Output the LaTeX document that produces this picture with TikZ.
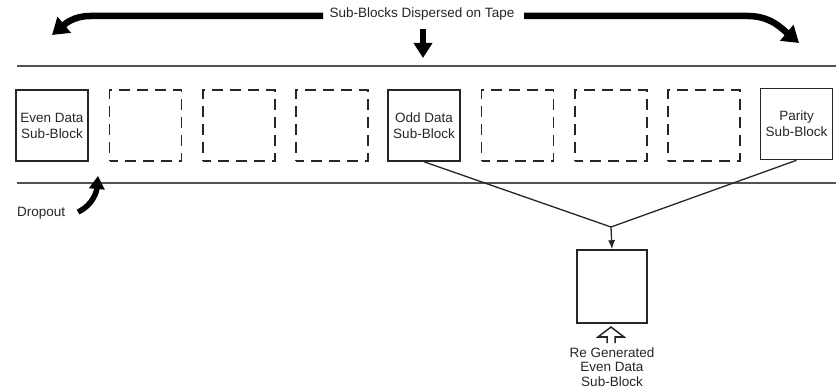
\documentclass[tikz,border=0pt]{standalone}
\usepackage{fontspec}
\setmainfont{Liberation Sans}
\usetikzlibrary{arrows.meta}
\definecolor{ink}{gray}{0.15}
\begin{document}
\begin{tikzpicture}[x=1pt,y=-1pt,
  every node/.style={font=\fontsize{13.5}{16}\selectfont, text=ink, align=center, inner sep=0pt},
  blk/.style={draw=ink, line width=1.6pt, minimum width=72pt, minimum height=71pt},
  dblk/.style={blk, dash pattern=on 11pt off 7pt, dash phase=3pt, line width=1.9pt},
  tapeline/.style={draw=ink!80, line width=1.4pt},
  thin/.style={draw=ink, line width=1.3pt},
  fat/.style={draw=black, line width=6.5pt, -{Triangle[length=16pt,width=20pt]}}
]
\useasboundingbox (0,0) rectangle (836,390);
% tape
\coordinate (t1) at (17,66); \coordinate (t2) at (836,66);
\coordinate (u1) at (17,183); \coordinate (u2) at (836,183);
\draw[tapeline] (t1) -- (t2);
\draw[tapeline] (u1) -- (u2);
% blocks
\node[blk]  (b1) at (52,125.5) {Even Data\\Sub-Block};
\node[dblk] (b2) at (145.5,125.5) {};
\node[dblk] (b3) at (239,125.5) {};
\node[dblk] (b4) at (332,125.5) {};
\node[blk]  (b5) at (424,125.5) {Odd Data\\Sub-Block};
\node[dblk] (b6) at (517.5,125.5) {};
\node[dblk] (b7) at (611,125.5) {};
\node[dblk] (b8) at (704,125.5) {};
\node[blk]  (b9) at (796.5,124) {Parity\\Sub-Block};
% regenerated
\node[blk, minimum width=70pt, minimum height=73pt] (r) at (612,286.5) {};
\coordinate (j) at (611,227);
\draw[thin] (b5.south) -- (j);
\draw[thin] (b9.south) -- (j);
\draw[thin, -{Latex[length=9pt,width=7pt]}] (j) -- (r.north);
% hollow arrow
\draw[draw=ink, line width=1.5pt, line join=miter] (607,343) -- (607,337) -- (598,337) -- (611,327) -- (624,337) -- (615,337) -- (615,343);
\node[font=\fontsize{13.5}{14.5}\selectfont] (rt) at (612,367) {Re Generated\\Even Data\\Sub-Block};
% title
\node (title) at (422,14) {Sub-Blocks Dispersed on Tape};
\coordinate (la) at (323,16);
\coordinate (ltip) at (52,35);
\coordinate (ra) at (524,16);
\coordinate (rtip) at (799,43);
\draw[fat] (la) -- (90,16) to[out=180,in=40] (ltip);
\draw[fat] (ra) -- (748,16) to[out=0,in=140] (rtip);
\coordinate (dtop) at (423,29);
\coordinate (dtip) at (423,58);
\draw[fat, -{Triangle[length=15pt,width=18pt]}] (dtop) -- (dtip);
% dropout
\node[anchor=west] (drop) at (17,213) {Dropout};
\coordinate (dtip2) at (98,176);
\draw[draw=black, line width=5.5pt, -{Triangle[length=13pt,width=15pt]}] (78,212) to[out=25,in=-95] (dtip2);
\end{tikzpicture}
\end{document}
